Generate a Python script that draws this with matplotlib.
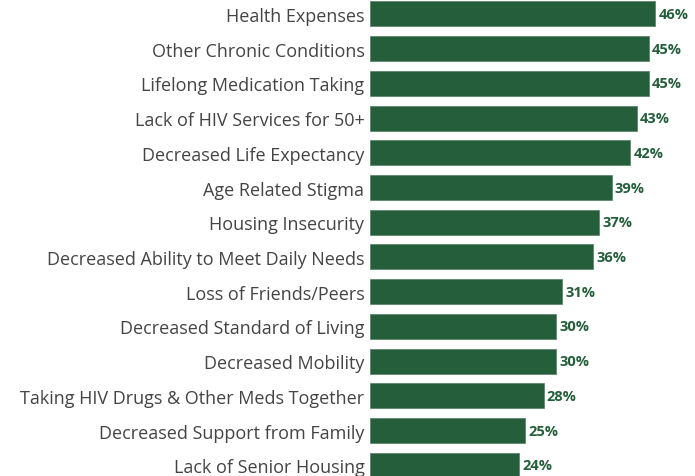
import matplotlib
matplotlib.use("Agg")
import matplotlib.pyplot as plt

categories = [
    "Health Expenses",
    "Other Chronic Conditions",
    "Lifelong Medication Taking",
    "Lack of HIV Services for 50+",
    "Decreased Life Expectancy",
    "Age Related Stigma",
    "Housing Insecurity",
    "Decreased Ability to Meet Daily Needs",
    "Loss of Friends/Peers",
    "Decreased Standard of Living",
    "Decreased Mobility",
    "Taking HIV Drugs & Other Meds Together",
    "Decreased Support from Family",
    "Lack of Senior Housing",
]
values = [46, 45, 45, 43, 42, 39, 37, 36, 31, 30, 30, 28, 25, 24]

bar_color = "#245E3A"
text_color = "#444444"

plt.rcParams["font.family"] = ["Open Sans", "DejaVu Sans"]


def main():
    fig = plt.figure(figsize=(6.95, 4.77), dpi=100)
    ax = fig.add_axes([370 / 695, 0, 1 - 370 / 695, 1])

    pos = list(range(len(categories)))
    ax.barh(pos, values, height=0.72, color=bar_color,
            edgecolor="#5d8a6c", linewidth=0.6)

    for p, v in zip(pos, values):
        ax.text(v + 0.5, p, f"{v}%", va="center", ha="left",
                fontsize=10.5, fontweight="bold", color=bar_color)

    ax.set_yticks(pos)
    ax.set_yticklabels(categories, fontsize=13, color=text_color)
    ax.tick_params(axis="y", length=0, pad=4)
    ax.set_xticks([])
    ax.set_xlim(0, 52.4)
    ax.set_ylim(13.31, -0.432)
    for s in ax.spines.values():
        s.set_visible(False)

    fig.savefig("out.png", dpi=100)


main()
